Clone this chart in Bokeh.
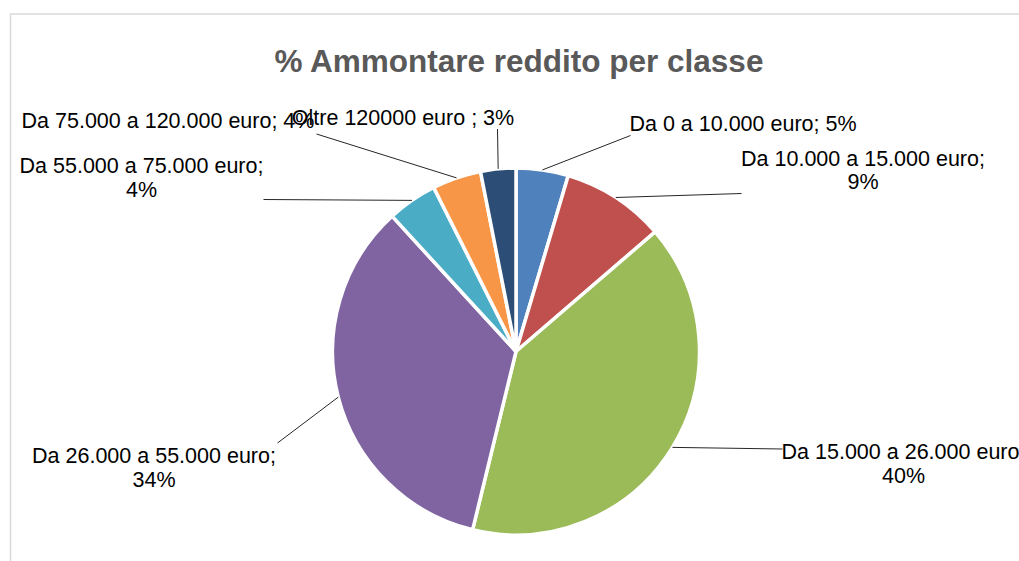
import math
from bokeh.plotting import figure
from bokeh.models import Range1d
from bokeh.core.properties import value
from bokeh.embed import file_html
from bokeh.resources import INLINE

# ---- data ----
categories = [
    "Da 0 a 10.000 euro",
    "Da 10.000 a 15.000 euro",
    "Da 15.000 a 26.000 euro",
    "Da 26.000 a 55.000 euro",
    "Da 55.000 a 75.000 euro",
    "Da 75.000 a 120.000 euro",
    "Oltre 120000 euro ",
]
values = [4.6, 9.1, 40.1, 34.4, 4.4, 4.3, 3.1]
colors = ["#4F81BD", "#C0504D", "#9BBB59", "#8064A2", "#4BACC6", "#F79646", "#2C4D75"]
title = "% Ammontare reddito per classe"

# ---- layout (reference pixel coordinates) ----
CX, CY, R = 515.5, 351.0, 183.5
wrap = [False, True, True, True, True, False, False]
label_xc = [742.5, 862.5, 903.0, 153.5, 141.0, 167.5, 402.5]
label_base = [123.0, 158.0, 451.5, 455.5, 165.5, 120.0, 117.5]
leader_end = [(630, 135), (741, 193), (782, 448.5), (277, 442.5), (263, 199), (316, 133.5), (497, 128.5)]
LINE_H = 23.5

W, H = 1019, 561
p = figure(width=W, height=H, output_backend="svg", toolbar_location=None,
           x_range=Range1d(0, W), y_range=Range1d(-H, 0),
           min_border=0)
p.axis.visible = False
p.grid.visible = False
p.outline_line_color = None
p.background_fill_color = "white"

# chart area border (cropped frame)
p.line(x=[10, 10, 1030], y=[-580, -13.5, -13.5], line_color="#D9D9D9", line_width=1.5)

total = sum(values)
cum = 0.0
starts, ends, mids = [], [], []
for v in values:
    c0 = cum / total
    cum += v
    c1 = cum / total
    starts.append(math.pi / 2 - 2 * math.pi * c0)
    ends.append(math.pi / 2 - 2 * math.pi * c1)
    mids.append(math.pi / 2 - 2 * math.pi * (c0 + c1) / 2)

p.wedge(x=CX, y=-CY, radius=R, start_angle=starts, end_angle=ends,
        direction="clock", fill_color=colors, line_color="white", line_width=3.5)

# leader lines
xs, ys = [], []
for m, (ex, ey) in zip(mids, leader_end):
    sx = CX + R * math.cos(m)
    sy = -CY + R * math.sin(m)
    xs.append([sx, ex])
    ys.append([sy, -ey])
p.multi_line(xs=xs, ys=ys, line_color="#000000", line_width=1, line_alpha=0.85)

# labels
tx, ty, tt = [], [], []
for cat, v, w, xc, yb in zip(categories, values, wrap, label_xc, label_base):
    pct = f"{round(v):d}%"
    if w:
        tx += [xc, xc]
        ty += [-yb, -(yb + LINE_H)]
        tt += [cat + ";", pct]
    else:
        tx.append(xc)
        ty.append(-yb)
        tt.append(cat + "; " + pct)
p.text(x=tx, y=ty, text=tt, text_font=value("Liberation Sans"), text_font_size=value("21.5px"),
       text_color="#000000", text_align="center", text_baseline="alphabetic")

p.text(x=[519.0], y=[-60.0], text=[title], text_font=value("Liberation Sans"),
       text_font_size=value("31.5px"), text_font_style="bold", text_color="#595959",
       text_align="center", text_baseline="alphabetic")

open("out.html", "w").write(file_html(p, INLINE))
